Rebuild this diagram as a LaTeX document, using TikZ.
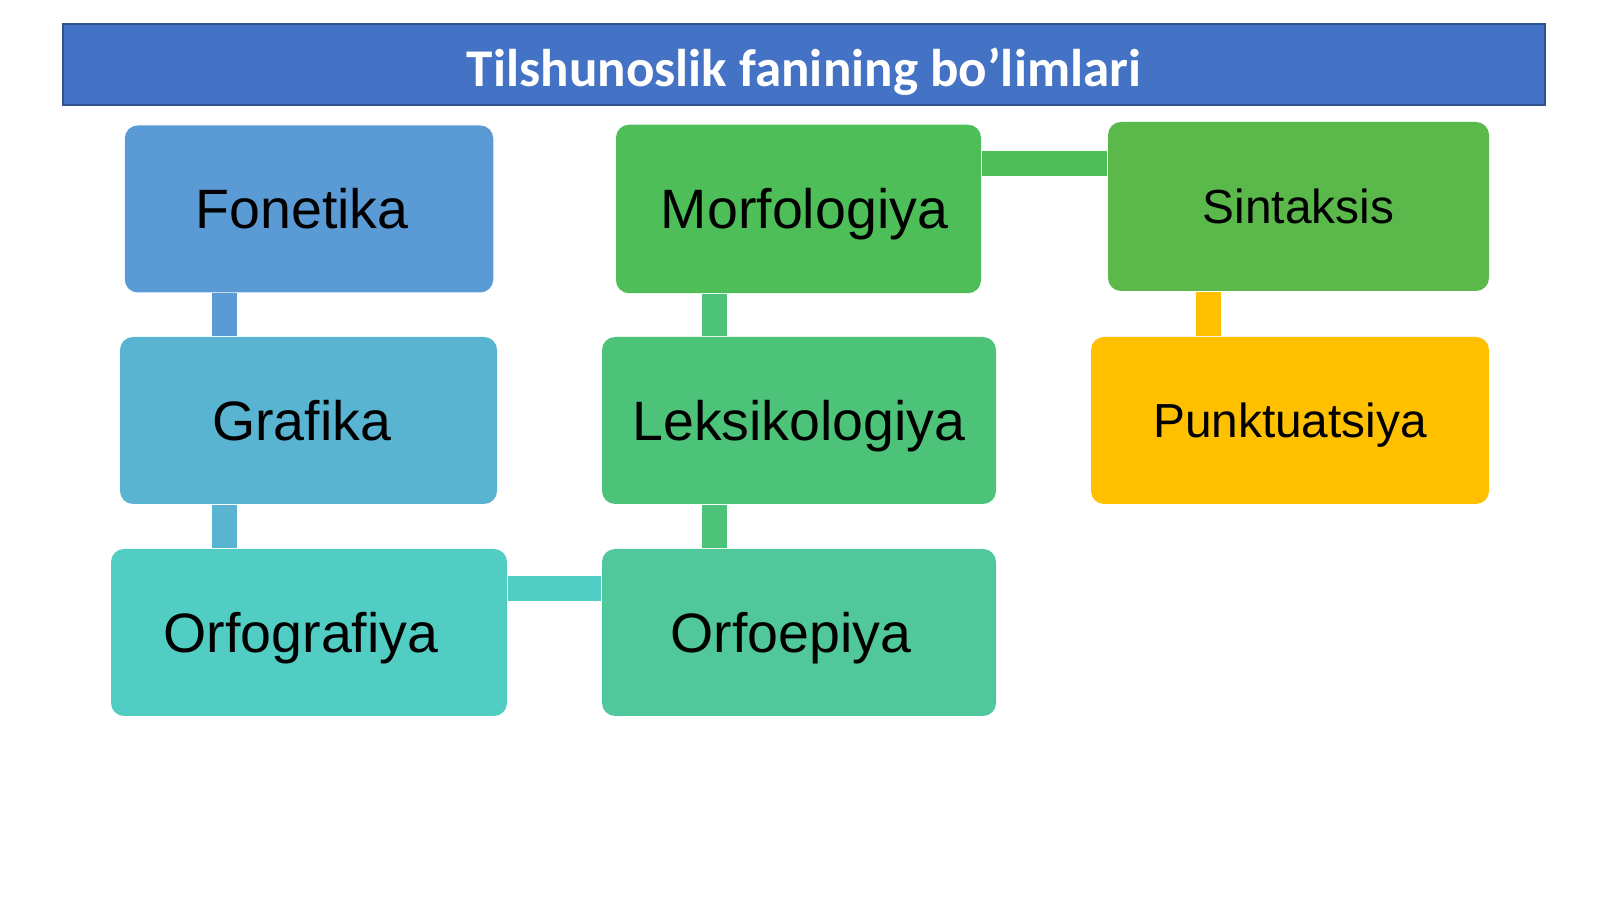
\documentclass[tikz,border=0pt]{standalone}
\usepackage{fontspec}
\setmainfont{Liberation Sans}
\newfontfamily\titlefont{Carlito}
\usetikzlibrary{positioning}

\definecolor{titleblue}{HTML}{4472C4}
\definecolor{titleedge}{HTML}{2F528F}
\definecolor{fonblue}{HTML}{5B9BD5}
\definecolor{grafblue}{HTML}{59B4D2}
\definecolor{orfteal}{HTML}{52CDC4}
\definecolor{morfgreen}{HTML}{4DBE58}
\definecolor{leksgreen}{HTML}{4DC37A}
\definecolor{epiagreen}{HTML}{50C89C}
\definecolor{sintgreen}{HTML}{5BB84B}
\definecolor{punkyellow}{HTML}{FFC000}

\begin{document}
\begin{tikzpicture}[
  box/.style={rectangle,rounded corners=0.13cm,minimum height=1.67cm,inner sep=0pt,text height=0.40cm,text depth=0pt,font=\fontsize{15.8}{18}\selectfont},
  smallbox/.style={box,text height=0.34cm,font=\fontsize{13.6}{16}\selectfont},
  bar/.style={line width=0.25cm}
]
 \useasboundingbox (0,0) rectangle (16,8.99);
 \node[fill=titleblue,draw=titleedge,line width=0.6pt,minimum width=14.82cm,minimum height=0.81cm,inner sep=0pt,text height=0.44cm,text depth=0pt,text=white,font=\titlefont\bfseries\fontsize{15.1}{18}\selectfont] (title) at (8.04,8.345) {Tilshunoslik fanining bo’limlari};

 \node[box,fill=fonblue,minimum width=3.685cm] (fon) at (3.09,6.90) {\kern-0.14cm Fonetika};
 \node[box,fill=grafblue,minimum width=3.77cm] (graf) at (3.085,4.785) {\kern-0.14cm Grafika};
 \node[box,fill=orfteal,minimum width=3.96cm] (orfog) at (3.09,2.665) {\kern-0.16cm Orfografiya};
 \node[box,fill=morfgreen,minimum width=3.65cm,minimum height=1.685cm] (morf) at (7.985,6.90) {Morfologiya\kern-0.12cm};
 \node[box,fill=leksgreen,minimum width=3.94cm] (leks) at (7.99,4.785) {Leksikologiya};
 \node[box,fill=epiagreen,minimum width=3.94cm] (orfoep) at (7.99,2.665) {\kern-0.16cm Orfoepiya};
 \node[smallbox,fill=sintgreen,minimum width=3.81cm,minimum height=1.69cm] (sint) at (12.985,6.925) {Sintaksis};
 \node[smallbox,fill=punkyellow,minimum width=3.98cm] (punk) at (12.90,4.785) {Punktuatsiya};

 \coordinate (leftline) at (2.245,0);
 \coordinate (midline) at (7.145,0);
 \coordinate (rightline) at (12.08,0);
 \coordinate (topline) at (0,7.35);
 \coordinate (lowline) at (0,3.10);

 \draw[bar,fonblue] (leftline |- fon.south) -- (leftline |- graf.north);
 \draw[bar,grafblue] (leftline |- graf.south) -- (leftline |- orfog.north);
 \draw[bar,orfteal] (orfog.east |- lowline) -- (orfoep.west |- lowline);
 \draw[bar,leksgreen] (midline |- orfoep.north) -- (midline |- leks.south);
 \draw[bar,leksgreen] (midline |- leks.north) -- (midline |- morf.south);
 \draw[bar,morfgreen] (morf.east |- topline) -- (sint.west |- topline);
 \draw[bar,punkyellow] (rightline |- sint.south) -- (rightline |- punk.north);
\end{tikzpicture}
\end{document}
